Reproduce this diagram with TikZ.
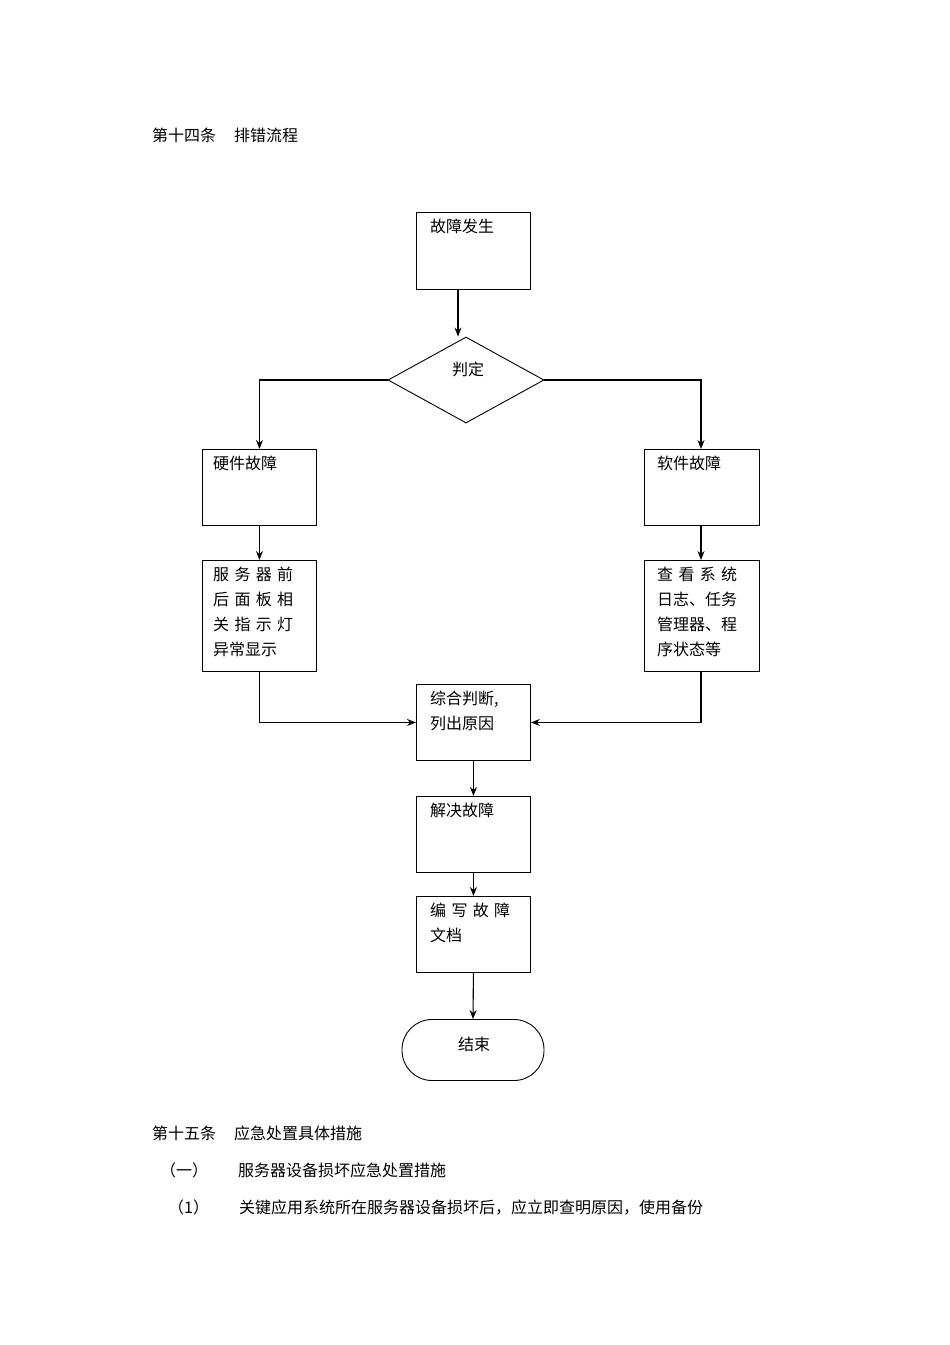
\documentclass[tikz,border=0pt]{standalone}
\usepackage{fontspec}
\setmainfont{Liberation Serif}
\newfontfamily\cjk{Noto Sans CJK SC}
\usetikzlibrary{shapes.geometric,arrows.meta}
\begin{document}
\begin{tikzpicture}[x=1pt,y=-1pt,
  box/.style={draw,line width=0.9pt,minimum width=114pt,minimum height=76pt,inner sep=0pt},
  txt/.style={anchor=north west,inner sep=0pt,font=\cjk\fontsize{16}{25}\selectfont,align=left},
  arr/.style={line width=1.1pt,-{Stealth[length=9pt,width=7pt]}},
  body/.style={anchor=west,inner sep=0pt,font=\cjk\fontsize{16}{20}\selectfont}]
\useasboundingbox (0,0) rectangle (950,1345);
\node[body] at (152,135) {第十四条\hspace{18pt}排错流程};
\node[box,minimum height=77pt,anchor=north west] (a) at (416,212) {};
\node[txt] at (430,219) {故障发生};
\node[draw,diamond,line width=0.9pt,minimum width=156pt,minimum height=86pt,aspect=1.8,inner sep=0pt] (d) at (466,380) {};
\node[txt] at (452,362) {判定};
\node[box,anchor=north west] (h) at (202,449) {};
\node[txt] at (213,456) {硬件故障};
\node[box,anchor=north west,minimum width=115pt] (s) at (644,449) {};
\node[txt] at (657,456) {软件故障};
\node[box,anchor=north west,minimum height=111pt] (h2) at (202,560) {};
\node[txt] at (213,567) {服\,\,务\,\,器\,\,前\\后\,\,面\,\,板\,\,相\\关\,\,指\,\,示\,\,灯\\异常显示};
\node[box,anchor=north west,minimum width=115pt,minimum height=111pt] (s2) at (644,560) {};
\node[txt] at (657,567) {查\,\,看\,\,系\,\,统\\日志、任务\\管理器、程\\序状态等};
\node[box,anchor=north west] (c) at (416,684) {};
\node[txt] at (430,691) {综合判断,\\列出原因};
\node[box,anchor=north west] (r) at (416,796) {};
\node[txt] at (430,803) {解决故障};
\node[box,anchor=north west] (w) at (416,896) {};
\node[txt] at (430,903) {编\,\,写\,\,故\,\,障\\文档};
\node[draw,line width=0.9pt,rounded corners=30pt,minimum width=142pt,minimum height=61pt,inner sep=0pt] (e) at (473,1050) {};
\node[txt] at (458,1037) {结束};
\draw[arr] (458,289) -- (d.north -| 458,0);
\draw[arr] (d.west) -| (h.north);
\draw[arr] (d.east) -| (701,449);
\draw[arr] (h.south) -- (h2.north);
\draw[arr] (701,525) -- (701,560);
\draw[arr] (h2.south) |- (c.west);
\draw[arr] (701,671) |- (c.east);
\draw[arr] (c.south) -- (r.north);
\draw[arr] (r.south) -- (w.north);
\draw[arr] (w.south) -- (e.north);
\node[body] at (152,1133) {第十五条\hspace{18pt}应急处置具体措施};
\node[body] at (160,1170) {（一）\hspace{30pt}服务器设备损坏应急处置措施};
\node[body] at (168,1207) {（1）\hspace{30pt}关键应用系统所在服务器设备损坏后，应立即查明原因，使用备份};
\end{tikzpicture}
\end{document}
